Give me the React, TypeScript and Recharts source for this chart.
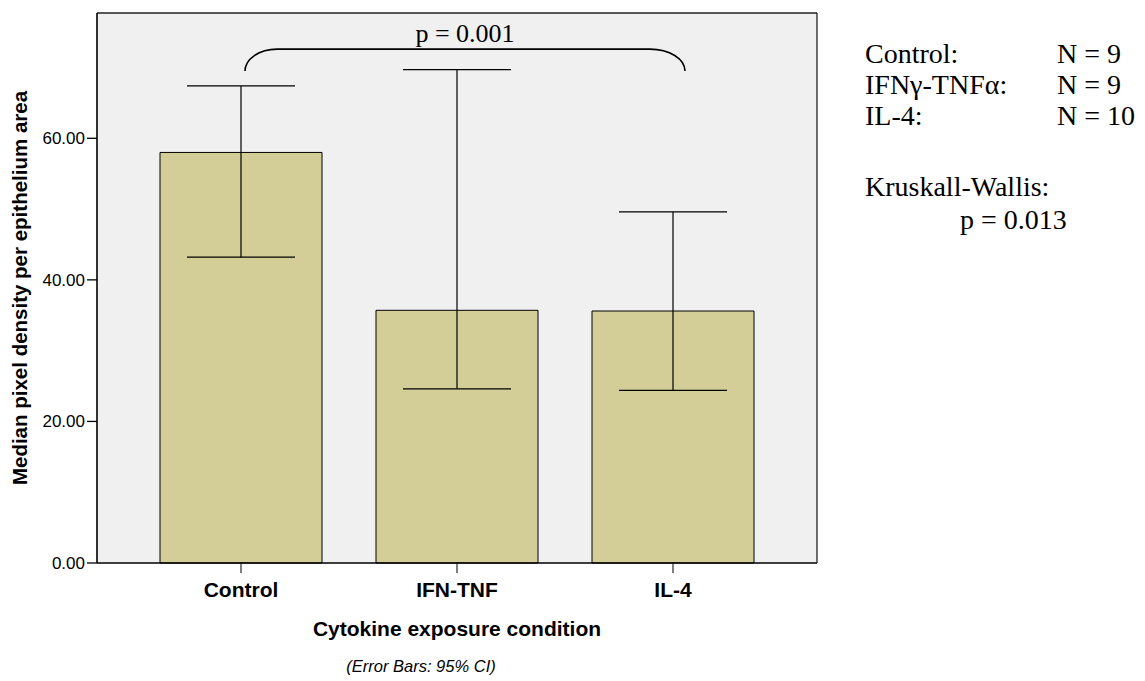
import React from 'react';
import { ComposedChart, Bar, XAxis, YAxis, ErrorBar, CartesianGrid, ReferenceLine } from 'recharts';

const categories = ['Control', 'IFN-TNF', 'IL-4'];
const medians = [58.0, 35.7, 35.6];
const ciLower = [43.2, 24.6, 24.4];
const ciUpper = [67.4, 69.7, 49.6];
const yTicks = [0, 20, 40, 60];
const groupLabels = ['Control:', 'IFNγ-TNFα:', 'IL-4:'];
const groupN = [9, 9, 10];
const comparisonP = '0.001';
const kruskalP = '0.013';
const bracketY = 72.6;

const data = categories.map((name, i) => ({
  name,
  median: medians[i],
  err: [medians[i] - ciLower[i], ciUpper[i] - medians[i]],
}));

const SANS = '"Liberation Sans", Arial, Helvetica, sans-serif';
const SERIF = '"Liberation Serif", "Times New Roman", serif';

const BracketShape = (props: any) => {
  const { x1, y1, x2 } = props;
  const lx = x1 + 4;
  const rx = x2 + 12;
  const yt = y1;
  const yb = y1 + 22;
  const d = `M ${lx} ${yb} A 32 22 0 0 1 ${lx + 32} ${yt} L ${rx - 35} ${yt} A 35 22 0 0 1 ${rx} ${yb}`;
  return (
    <g>
      <path d={d} fill="none" stroke="#000" strokeWidth={1.6} />
      <text x={(lx + rx) / 2} y={yt - 7} textAnchor="middle" fontFamily={SERIF} fontSize={26} fill="#000">
        {`p = ${comparisonP}`}
      </text>
    </g>
  );
};

const YTitle = (props: any) => {
  const vb = props.viewBox || { x: 0, y: 13, width: 97, height: 550 };
  const x = vb.x + 27;
  const y = vb.y + vb.height / 2;
  return (
    <text x={x} y={y} transform={`rotate(-90 ${x} ${y})`} textAnchor="middle" fontFamily={SANS} fontWeight="bold" fontSize={20.5} fill="#000">
      Median pixel density per epithelium area
    </text>
  );
};

const XTitle = (props: any) => {
  const vb = props.viewBox || { x: 97, y: 563, width: 720, height: 60 };
  return (
    <text x={vb.x + vb.width / 2} y={vb.y + 73} textAnchor="middle" fontFamily={SANS} fontWeight="bold" fontSize={21} fill="#000">
      Cytokine exposure condition
    </text>
  );
};

export default function App() {
  return (
    <div style={{ position: 'absolute', left: 0, top: 0, width: 1145, height: 681, background: '#fff' }}>
      <ComposedChart
        width={1145}
        height={681}
        data={data}
        margin={{ top: 12, right: 327, bottom: 58, left: 0 }}
      >
        <CartesianGrid fill="#F0F0F0" horizontal={false} vertical={false} stroke="none" />
        <XAxis
          dataKey="name"
          type="category"
          interval={0}
          height={60}
          padding={{ left: 36, right: 36 }}
          tickSize={10}
          tickMargin={9}
          axisLine={{ stroke: '#000', strokeWidth: 1.6 }}
          tickLine={{ stroke: '#000', strokeWidth: 1 }}
          tick={{ fontFamily: SANS, fontWeight: 'bold', fontSize: 21, fill: '#000' }}
          label={<XTitle />}
        />
        <XAxis
          xAxisId="top"
          dataKey="name"
          orientation="top"
          height={1}
          padding={{ left: 36, right: 36 }}
          tick={false}
          tickLine={false}
          axisLine={{ stroke: '#222', strokeWidth: 1.3 }}
        />
        <YAxis
          type="number"
          width={97}
          domain={[0, 77.7]}
          ticks={yTicks}
          tickSize={10}
          tickMargin={2}
          tickFormatter={(v: number) => v.toFixed(2)}
          axisLine={{ stroke: '#000', strokeWidth: 1.6 }}
          tickLine={{ stroke: '#000', strokeWidth: 1.3 }}
          tick={{ fontFamily: SANS, fontSize: 17, fill: '#000' }}
          label={<YTitle />}
        />
        <YAxis
          yAxisId="right"
          orientation="right"
          type="number"
          width={1}
          domain={[0, 77.7]}
          tick={false}
          tickLine={false}
          axisLine={{ stroke: '#222', strokeWidth: 1.3 }}
        />
        <Bar dataKey="median" fill="#D3CE98" stroke="#000" strokeWidth={1} barSize={162} isAnimationActive={false}>
          <ErrorBar dataKey="err" width={54} stroke="#000" strokeWidth={1.2} isAnimationActive={false} />
        </Bar>
        <ReferenceLine
          segment={[{ x: categories[0], y: bracketY }, { x: categories[2], y: bracketY }]}
          shape={BracketShape}
          ifOverflow="visible"
        />
      </ComposedChart>
      <svg width={1145} height={681} style={{ position: 'absolute', left: 0, top: 0, pointerEvents: 'none' }}>
        {groupLabels.map((g, i) => (
          <g key={g}>
            <text x={865} y={63 + i * 31} fontFamily={SERIF} fontSize={28} fill="#000">{g}</text>
            <text x={1057} y={63 + i * 31} fontFamily={SERIF} fontSize={28} fill="#000">{`N = ${groupN[i]}`}</text>
          </g>
        ))}
        <text x={865} y={196} fontFamily={SERIF} fontSize={28} fill="#000">Kruskall-Wallis:</text>
        <text x={960} y={229} fontFamily={SERIF} fontSize={28} fill="#000">{`p = ${kruskalP}`}</text>
        <text x={421} y={672} textAnchor="middle" fontFamily={SANS} fontStyle="italic" fontSize={16.5} fill="#000">
          (Error Bars: 95% CI)
        </text>
      </svg>
    </div>
  );
}
